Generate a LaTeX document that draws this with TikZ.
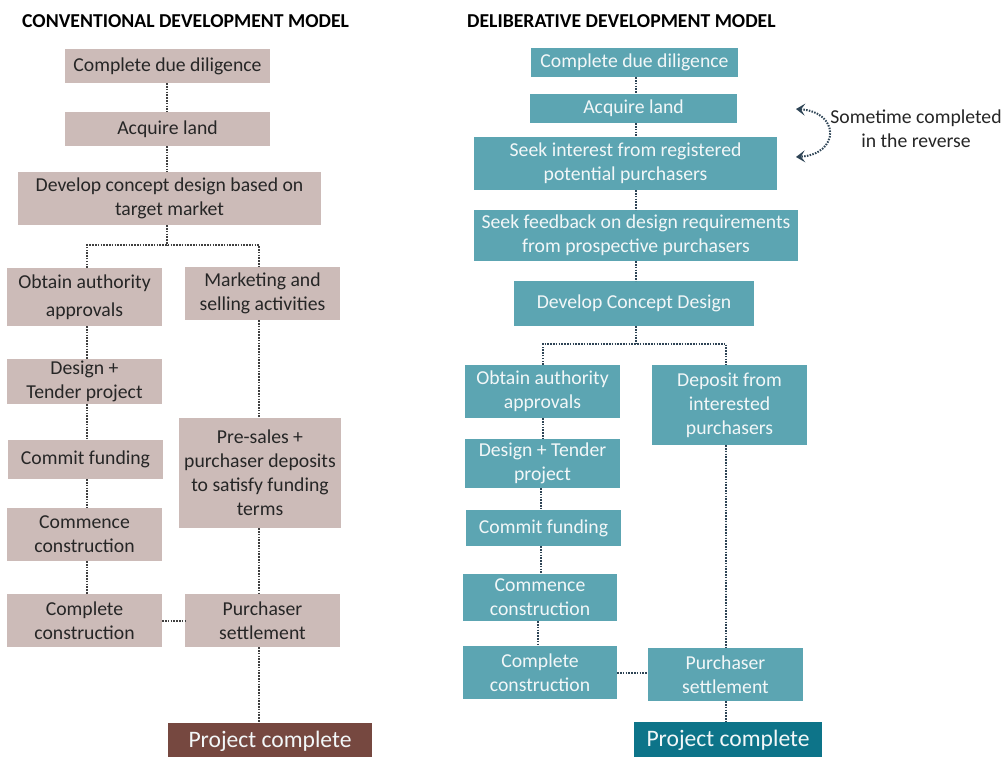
\documentclass[tikz,border=0pt]{standalone}
\usepackage{fontspec}
\setmainfont{Carlito}
\usetikzlibrary{arrows.meta}
\definecolor{lfill}{HTML}{CCBBB8}
\definecolor{lend}{HTML}{764840}
\definecolor{rfill}{HTML}{5CA5B2}
\definecolor{rend}{HTML}{0D7489}
\definecolor{ltext}{HTML}{262626}
\definecolor{rtext}{HTML}{F2F7F8}
\definecolor{lline}{HTML}{404040}
\definecolor{rline}{HTML}{2E4455}
\tikzset{
  boxbase/.style={inner sep=0pt, align=center, font=\fontsize{19.7}{24}\selectfont},
  lbox/.style={boxbase, fill=lfill, text=ltext},
  rbox/.style={boxbase, fill=rfill, text=rtext},
  lendbox/.style={inner sep=0pt, fill=lend, text=rtext, font=\fontsize{23.6}{26}\selectfont},
  rendbox/.style={inner sep=0pt, fill=rend, text=rtext, font=\fontsize{23.6}{26}\selectfont},
  sz/.style 2 args={minimum width=#1pt, minimum height=#2pt},
  lconn/.style={draw=lline, line width=2pt, dash pattern=on 1.5pt off 1.3pt},
  rconn/.style={draw=rline, line width=2pt, dash pattern=on 1.5pt off 1.3pt},
  ttl/.style={anchor=west, inner sep=0pt, font=\fontsize{19.7}{22}\selectfont\bfseries},
  note/.style={align=center, inner sep=0pt, text=ltext, font=\fontsize{19.7}{24}\selectfont}
}
\begin{document}
\begin{tikzpicture}[x=1pt,y=-1pt]
\useasboundingbox (0,0) rectangle (1003,756);
\fill[white] (0,0) rectangle (1003,756);
% titles
\node[ttl] (t1) at (22,21) {CONVENTIONAL DEVELOPMENT MODEL};
\node[ttl] (t2) at (467,21) {DELIBERATIVE DEVELOPMENT MODEL};
% left column
\node[lbox, sz={205}{34}] (b1) at (167.5,66) {Complete due diligence};
\node[lbox, sz={205}{34}] (b2) at (167.5,129) {Acquire land};
\node[lbox, sz={303}{53}] (b3) at (169.5,198.5) {Develop concept design based on\\target market};
\node[lbox, sz={155}{58}, font=\fontsize{19.7}{28}\selectfont] (b4) at (84.5,297) {Obtain authority\\approvals};
\node[lbox, sz={155}{53}] (b5) at (262.5,293.5) {Marketing and\\selling activities};
\node[lbox, sz={155}{45}] (b6) at (84.5,381.5) {Design +\\Tender project};
\node[lbox, sz={155}{39}] (b7) at (85.5,459.5) {Commit funding};
\node[lbox, sz={155}{53}] (b8) at (84.5,534.5) {Commence\\construction};
\node[lbox, sz={155}{53}] (b9) at (84.5,620.5) {Complete\\construction};
\node[lbox, sz={162}{110}] (b10) at (260,473) {Pre-sales +\\purchaser deposits\\to satisfy funding\\terms};
\node[lbox, sz={155}{53}] (b11) at (262.5,620.5) {Purchaser\\settlement};
\node[lendbox, sz={204}{36}] (b12) at (270,741) {Project complete};
% left connectors
\coordinate (lx) at (87,0);
\coordinate (lrx) at (259,0);
\coordinate (ls) at (167,245);
\draw[lconn] (b1.south -| ls) -- (b2.north -| ls);
\draw[lconn] (b2.south -| ls) -- (b3.north -| ls);
\draw[lconn] (b3.south -| ls) -- (ls);
\draw[lconn] (b4.north -| lx) |- (ls) -| (b5.north -| lrx);
\draw[lconn] (b4.south -| lx) -- (b6.north -| lx);
\draw[lconn] (b6.south -| lx) -- (b7.north -| lx);
\draw[lconn] (b7.south -| lx) -- (b8.north -| lx);
\draw[lconn] (b8.south -| lx) -- (b9.north -| lx);
\draw[lconn] (b5.south -| lrx) -- (b10.north -| lrx);
\draw[lconn] (b10.south -| lrx) -- (b11.north -| lrx);
\draw[lconn] (b11.south -| lrx) -- (b12.north -| lrx);
\draw[lconn] (b9.east) -- (b11.west);
% right column
\node[rbox, sz={207}{29}] (r1) at (634.5,62.5) {Complete due diligence};
\node[rbox, sz={207}{29}] (r2) at (633.5,108.5) {Acquire land};
\node[rbox, sz={303}{53}] (r3) at (625.5,163.5) {Seek interest from registered\\potential purchasers};
\node[rbox, sz={324}{51}] (r4) at (636,235.5) {Seek feedback on design requirements\\from prospective purchasers};
\node[rbox, sz={240}{45}] (r5) at (634,303.5) {Develop Concept Design};
\node[rbox, sz={155}{53}] (r6) at (542.5,391.5) {Obtain authority\\approvals};
\node[rbox, sz={155}{80}] (r7) at (729.5,405) {Deposit from\\interested\\purchasers};
\node[rbox, sz={155}{49}] (r8) at (542.5,463.5) {Design + Tender\\project};
\node[rbox, sz={155}{36}] (r9) at (543.5,528) {Commit funding};
\node[rbox, sz={154}{47}] (r10) at (540,597.5) {Commence\\construction};
\node[rbox, sz={154}{53}] (r11) at (540,672.5) {Complete\\construction};
\node[rbox, sz={155}{53}] (r12) at (725.5,674.5) {Purchaser\\settlement};
\node[rendbox, sz={188}{36}] (r13) at (728,740) {Project complete};
% right connectors
\coordinate (rtx) at (636,0);
\coordinate (rs) at (636,344);
\coordinate (rl1) at (543,0);
\coordinate (rl2) at (541,0);
\coordinate (rl3) at (538,0);
\coordinate (rrx) at (726,0);
\coordinate (ry) at (0,673);
\draw[rconn] (r1.south -| rtx) -- (r2.north -| rtx);
\draw[rconn] (r2.south -| rtx) -- (r3.north -| rtx);
\draw[rconn] (r3.south -| rtx) -- (r4.north -| rtx);
\draw[rconn] (r4.south -| rtx) -- (r5.north -| rtx);
\draw[rconn] (r5.south -| rs) -- (rs);
\draw[rconn] (r6.north -| rl1) |- (rs) -| (r7.north -| rrx);
\draw[rconn] (r6.south -| rl1) -- (r8.north -| rl1);
\draw[rconn] (r8.south -| rl2) -- (r9.north -| rl2);
\draw[rconn] (r9.south -| rl2) -- (r10.north -| rl2);
\draw[rconn] (r10.south -| rl3) -- (r11.north -| rl3);
\draw[rconn] (r7.south -| rrx) -- (r12.north -| rrx);
\draw[rconn] (r12.south -| rrx) -- (r13.north -| rrx);
\draw[rconn] (r11.east |- ry) -- (r12.west |- ry);
% reverse annotation
\coordinate (a1) at (796,109);
\coordinate (a2) at (796,157);
\draw[rconn, {Stealth[length=9pt,width=12pt,inset=4pt]}-{Stealth[length=9pt,width=12pt,inset=4pt]}]
  (a1) .. controls (840,112) and (840,154) .. (a2);
\node[note] (nt) at (916,129) {Sometime completed\\in the reverse};
\end{tikzpicture}
\end{document}
